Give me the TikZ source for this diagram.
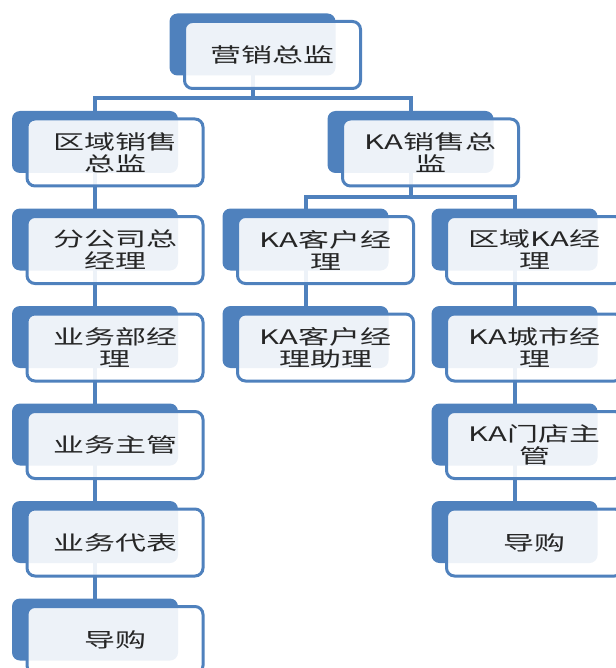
\documentclass[tikz,border=0pt]{standalone}
\usepackage{fontspec}
\newfontfamily\cjk[FakeStretch=1.55]{Noto Sans CJK SC}
\usetikzlibrary{backgrounds}
\definecolor{boxblue}{HTML}{4F81BD}

\begin{document}
\begin{tikzpicture}[x=1pt,y=-1pt,
    backbox/.style={fill=boxblue,rounded corners=8pt,minimum width=166pt,minimum height=62pt,inner sep=0pt},
    frontbox/.style={draw=boxblue,line width=3pt,fill=white,fill opacity=.9,text opacity=1,rounded corners=8pt,
      minimum width=176pt,minimum height=67pt,inner sep=0pt,align=center,text=black!85,font=\cjk\fontsize{20}{22}\selectfont},
    linkline/.style={draw=boxblue,line width=4pt}]
      \useasboundingbox (0,0) rectangle (615,668);
      \node[backbox] (top-b) at (252.5,44.5) {};
      \node[frontbox] (top) at (272.5,55) {营销总监};
      \node[backbox] (l2-b) at (95,142) {};
      \node[frontbox] (l2) at (115,152.5) {区域销售\\总监};
      \node[backbox] (l3-b) at (95,239.5) {};
      \node[frontbox] (l3) at (115,250) {分公司总\\经理};
      \node[backbox] (l4-b) at (95,337) {};
      \node[frontbox] (l4) at (115,347.5) {业务部经\\理};
      \node[backbox] (l5-b) at (95,434.5) {};
      \node[frontbox] (l5) at (115,445) {业务主管};
      \node[backbox] (l6-b) at (95,532) {};
      \node[frontbox] (l6) at (115,542.5) {业务代表};
      \node[backbox] (l7-b) at (95,629.5) {};
      \node[frontbox] (l7) at (115,640) {导购};
      \node[backbox] (r2-b) at (410.5,142) {};
      \node[frontbox] (r2) at (430.5,152.5) {KA销售总\\监};
      \node[backbox] (m3-b) at (305.5,239.5) {};
      \node[frontbox] (m3) at (325.5,250) {KA客户经\\理};
      \node[backbox] (m4-b) at (305.5,337) {};
      \node[frontbox] (m4) at (325.5,347.5) {KA客户经\\理助理};
      \node[backbox] (r3-b) at (514.5,239.5) {};
      \node[frontbox] (r3) at (534.5,250) {区域KA经\\理};
      \node[backbox] (r4-b) at (514.5,337) {};
      \node[frontbox] (r4) at (534.5,347.5) {KA城市经\\理};
      \node[backbox] (r5-b) at (514.5,434.5) {};
      \node[frontbox] (r5) at (534.5,445) {KA门店主\\管};
      \node[backbox] (r6-b) at (514.5,532) {};
      \node[frontbox] (r6) at (534.5,542.5) {导购};
      \begin{scope}[on background layer]
        \draw[linkline] (top-b.center) -- ++(0,53.5) -| (l2-b.center);
        \draw[linkline] (top-b.center) -- ++(0,53.5) -| (r2-b.center);
        \draw[linkline] (l2-b.center) -- (l3-b.center) -- (l4-b.center) -- (l5-b.center) -- (l6-b.center) -- (l7-b.center);
        \draw[linkline] (r2-b.center) -- ++(0,55) -| (m3-b.center);
        \draw[linkline] (r2-b.center) -- ++(0,55) -| (r3-b.center);
        \draw[linkline] (m3-b.center) -- (m4-b.center);
        \draw[linkline] (r3-b.center) -- (r4-b.center) -- (r5-b.center) -- (r6-b.center);
      \end{scope}
    \end{tikzpicture}
\end{document}
